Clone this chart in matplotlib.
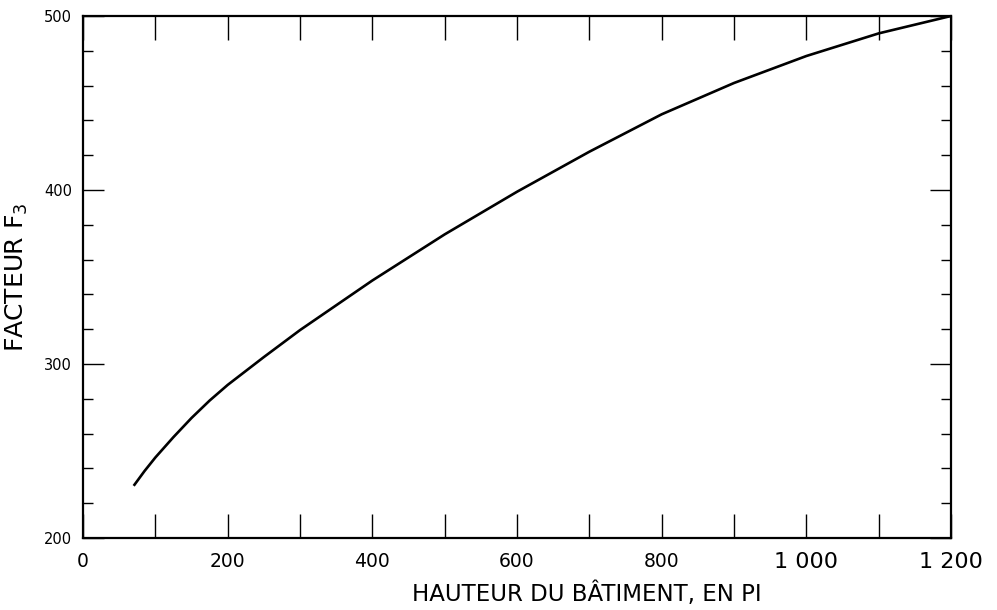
import matplotlib.pyplot as plt
from matplotlib.ticker import MultipleLocator

# Facteur F3 en fonction de la hauteur du bâtiment
hauteur = [70, 85, 100, 125, 150, 175, 200, 250, 300, 400, 500, 600, 700, 800, 900, 1000, 1100, 1200]
facteur = [230, 238.5, 246.3, 258, 269, 279, 288, 304, 319.5, 348, 374.5, 399, 422, 443.5, 461.5, 477, 490, 500]

x_ticks = [0, 200, 400, 600, 800, 1000, 1200]
x_labels = ["0", "200", "400", "600", "800", "1 000", "1 200"]
y_ticks = [200, 300, 400, 500]

plt.rcParams["font.family"] = ["DejaVu Sans"]
plt.rcParams["mathtext.fontset"] = "dejavusans"

fig = plt.figure(figsize=(9.97, 6.10), dpi=100)
ax = fig.add_axes([0.0833, 0.118, 0.8706, 0.8558])

ax.plot(hauteur, facteur, color="black", linewidth=1.9, solid_capstyle="butt",
        solid_joinstyle="round")

ax.set_xlim(0, 1200)
ax.set_ylim(200, 500)

ax.set_xticks(x_ticks)
ax.set_xticklabels(x_labels)
ax.xaxis.set_minor_locator(MultipleLocator(100))
ax.set_yticks(y_ticks)
ax.yaxis.set_minor_locator(MultipleLocator(20))

for side in ax.spines.values():
    side.set_linewidth(1.6)
    side.set_color("black")

ax.tick_params(axis="x", which="both", direction="in", length=17, width=1.0,
               top=True, labelsize=13.5, pad=10, color="black")
ax.tick_params(axis="y", which="major", direction="in", length=15, width=1.0,
               right=True, labelsize=10.5, pad=8, color="black")
ax.tick_params(axis="y", which="minor", direction="in", length=7, width=1.0,
               right=True, color="black")

# the two thousands are printed in a larger type
for lbl in ax.get_xticklabels()[-2:]:
    lbl.set_fontsize(16)

ax.set_xlabel("HAUTEUR DU BÂTIMENT, EN PI", fontsize=16.5)
ax.xaxis.set_label_coords(0.58, -0.084)
ax.set_ylabel("FACTEUR F$_3$", fontsize=18)
ax.yaxis.set_label_coords(-0.061, 0.5)

fig.savefig("out.png", dpi=100, facecolor="white")
plt.close(fig)
